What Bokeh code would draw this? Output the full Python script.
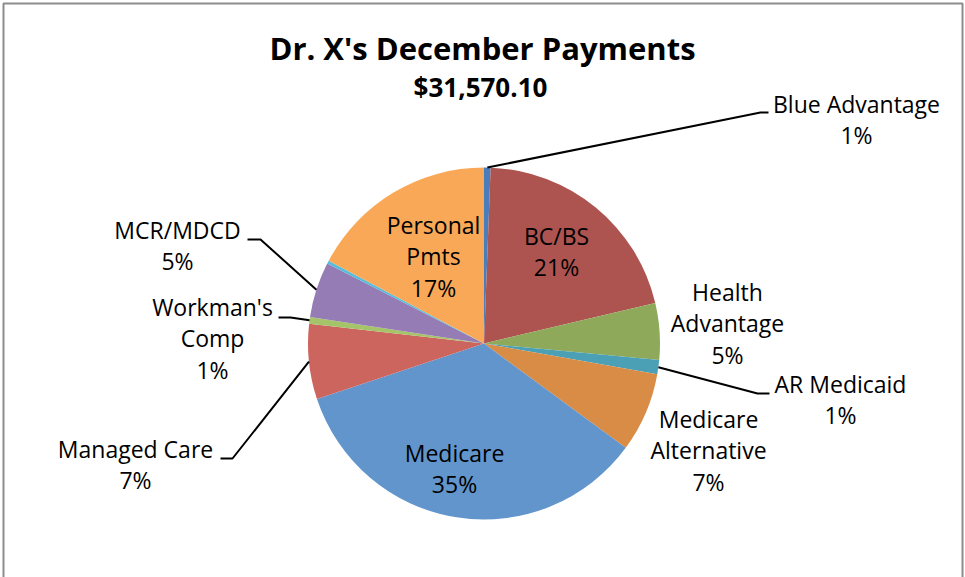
import numpy as np
from bokeh.plotting import figure
from bokeh.models import ColumnDataSource, Range1d
from bokeh.core.properties import value
from bokeh.embed import file_html
from bokeh.resources import INLINE

# ---------------- data ----------------
title_text = "Dr. X's December Payments"
categories = ["Blue Advantage", "BC/BS", "Health Advantage", "AR Medicaid",
              "Medicare Alternative", "Medicare", "Managed Care",
              "Workman's Comp", "MCR/MDCD", "Other", "Personal Pmts"]
amounts = [189.42, 6535.01, 1641.65, 410.41, 2304.62, 10986.39, 2178.34,
           189.42, 1610.08, 94.71, 5430.05]
colors = ["#4A7EBB", "#AD5450", "#8FA95A", "#4BA0B6", "#D98C46", "#6195CC",
          "#CD655F", "#A5C46A", "#967CB4", "#56BEDC", "#F9A857"]
labeled = [True, True, True, True, True, True, True, True, True, False, True]

# ---------------- layout (page pixel coordinates) ----------------
W, H = 965, 577
CX, CY, R = 483.5, 343.0, 176.0
LINE_H = 31.5
FONT = "Open Sans"
LABEL_SIZE = "23px"
LABEL_SHIFT = -10   # baseline correction for rendered text
TITLE_SHIFT = -12
SUB_SHIFT = -11

# wrapped names, label centre x, first baseline y, leader elbow points
label_layout = {
    "Blue Advantage": dict(lines=["Blue Advantage"], x=856, y=113, leader=[(760, 112), (768, 112)]),
    "BC/BS": dict(lines=["BC/BS"], x=556, y=245, leader=None),
    "Health Advantage": dict(lines=["Health", "Advantage"], x=727, y=301, leader=None),
    "AR Medicaid": dict(lines=["AR Medicaid"], x=840, y=393, leader=[(757, 393), (769, 393)]),
    "Medicare Alternative": dict(lines=["Medicare", "Alternative"], x=708, y=428, leader=None),
    "Medicare": dict(lines=["Medicare"], x=454, y=462, leader=None),
    "Managed Care": dict(lines=["Managed Care"], x=135, y=458, leader=[(232, 458), (220, 458)]),
    "Workman's Comp": dict(lines=["Workman's", "Comp"], x=212, y=316, leader=[(290, 317), (278, 317)]),
    "MCR/MDCD": dict(lines=["MCR/MDCD"], x=177, y=239, leader=[(260, 239), (247, 239)]),
    "Personal Pmts": dict(lines=["Personal", "Pmts"], x=433, y=234, leader=None),
}


def Y(py):
    return H - py


vals = np.array(amounts, dtype=float)
total = vals.sum()
frac = vals / total
cum_end = np.cumsum(frac)
cum_start = cum_end - frac
th_start = 2 * np.pi * cum_start  # clockwise from 12 o'clock
th_end = 2 * np.pi * cum_end

wedge_src = ColumnDataSource(dict(
    x=[CX] * len(vals), y=[Y(CY)] * len(vals),
    start=list(np.pi / 2 - th_end), end=list(np.pi / 2 - th_start),
    color=colors, name=categories))

p = figure(width=W, height=H, output_backend="svg", toolbar_location=None,
           x_range=Range1d(0, W), y_range=Range1d(0, H),
           x_axis_type=None, y_axis_type=None, min_border=0,
           background_fill_color="white", border_fill_color="white")
p.outline_line_color = None
p.grid.visible = False

# chart-area border
p.quad(left=[3], right=[962], top=[Y(3)], bottom=[Y(590)],
       fill_color=None, line_color="#8C8C8C", line_width=2)

p.wedge(x="x", y="y", radius=R, start_angle="start", end_angle="end",
        fill_color="color", line_color=None, source=wedge_src)

# labels & leaders
tx, ty, tt = [], [], []
lx, ly = [], []
for i, name in enumerate(categories):
    if not labeled[i]:
        continue
    lay = label_layout[name]
    pct = f"{int(np.floor(frac[i] * 100 + 0.5))}%"
    lines = lay["lines"] + [pct]
    for k, s in enumerate(lines):
        tx.append(lay["x"])
        ty.append(Y(lay["y"] + k * LINE_H + LABEL_SHIFT))
        tt.append(s)
    if lay["leader"]:
        mid = (th_start[i] + th_end[i]) / 2
        pts = [(CX + R * np.sin(mid), CY - R * np.cos(mid))] + lay["leader"]
        lx.append([q[0] for q in pts])
        ly.append([Y(q[1]) for q in pts])

p.multi_line(xs=lx, ys=ly, line_color="black", line_width=2)
p.text(x=tx, y=ty, text=tt, text_align="center", text_baseline="alphabetic",
       text_font=value(FONT), text_font_size=LABEL_SIZE, text_color="black")

# title and total
p.text(x=[482], y=[Y(59 + TITLE_SHIFT)], text=[title_text], text_align="center",
       text_baseline="alphabetic", text_font=value(FONT),
       text_font_size="31px", text_font_style="bold", text_color="black")
p.text(x=[480], y=[Y(97 + SUB_SHIFT)], text=[f"${total:,.2f}"], text_align="center",
       text_baseline="alphabetic", text_font=value(FONT),
       text_font_size="26px", text_font_style="bold", text_color="black")

open("out.html", "w").write(file_html(p, INLINE))
